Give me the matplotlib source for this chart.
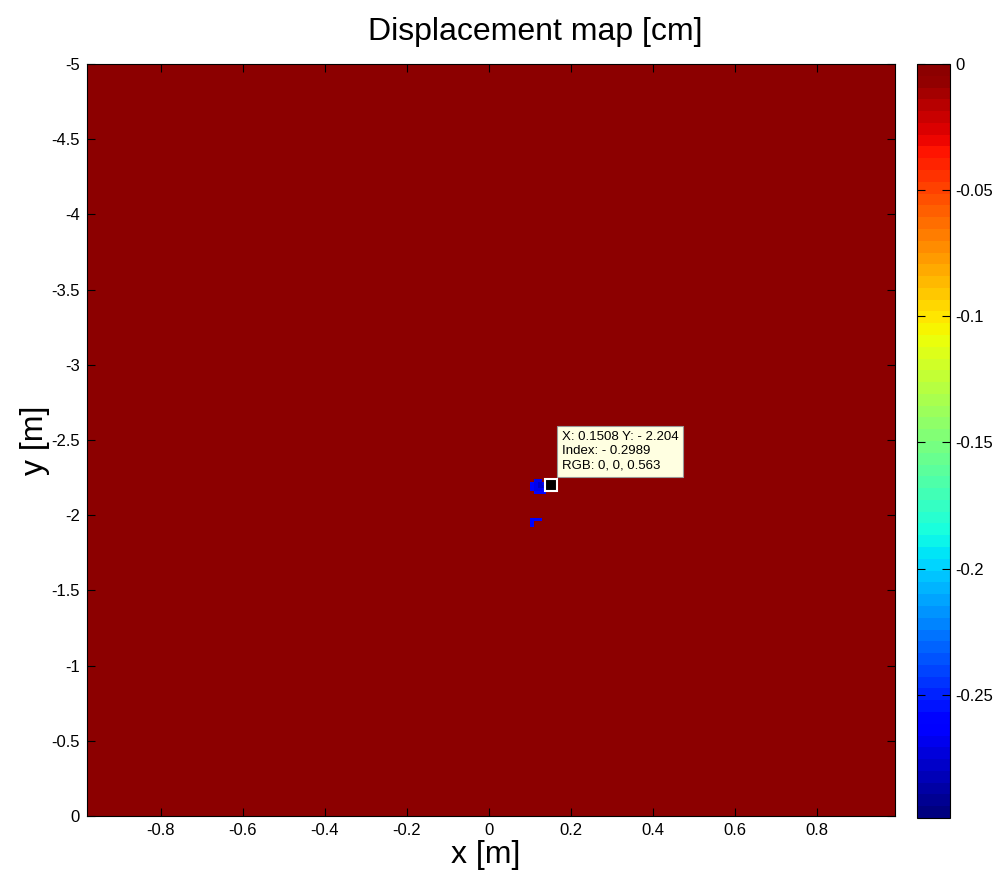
import numpy as np
import matplotlib
matplotlib.use('Agg')
import matplotlib.pyplot as plt
from matplotlib.colors import ListedColormap

plt.rcParams['font.family'] = ['Liberation Sans', 'DejaVu Sans']
plt.rcParams['axes.unicode_minus'] = False

# grid of the map (m)
x_edges = np.arange(-0.98, 0.995, 0.01)
y_edges = np.arange(-5.0, 0.001, 0.02)

# cells with non-zero displacement (cm)
spot_x = [0.12, 0.13,
          0.11, 0.12, 0.13, 0.14,
          0.11, 0.12, 0.13, 0.14, 0.15,
          0.11, 0.12, 0.13, 0.14,
          0.12, 0.13, 0.14,
          0.11, 0.12, 0.13,
          0.11, 0.11]
spot_y = [-2.24, -2.24,
          -2.22, -2.22, -2.22, -2.22,
          -2.20, -2.20, -2.20, -2.20, -2.20,
          -2.18, -2.18, -2.18, -2.18,
          -2.16, -2.16, -2.16,
          -1.98, -1.98, -1.98,
          -1.96, -1.94]
spot_val = [-0.27, -0.27,
            -0.26, -0.27, -0.28, -0.27,
            -0.26, -0.27, -0.28, -0.28, -0.2989,
            -0.26, -0.27, -0.27, -0.26,
            -0.26, -0.26, -0.26,
            -0.26, -0.26, -0.26,
            -0.26, -0.26]

# datatip
tip_x, tip_y = 0.1508, -2.204
tip_text = 'X: 0.1508 Y: - 2.204\nIndex: - 0.2989\nRGB: 0, 0, 0.563'

xc = (x_edges[:-1] + x_edges[1:]) / 2
yc = (y_edges[:-1] + y_edges[1:]) / 2
Z = np.zeros((len(yc), len(xc)))
for sx, sy, sv in zip(spot_x, spot_y, spot_val):
    i = np.argmin(np.abs(yc - sy))
    j = np.argmin(np.abs(xc - sx))
    Z[i, j] = sv

fig = plt.figure(figsize=(10.01, 8.73), dpi=100)
ax = fig.add_axes([87/1001, 57/873, 808/1001, 752/873])
cax = fig.add_axes([917/1001, 55/873, 33/1001, 754/873])

# jet with 64 steps, top end a bit lighter like the original render
colors = plt.get_cmap('jet', 64)(np.arange(64))
colors[-1] = [0.55, 0.0, 0.0, 1.0]
cmap = ListedColormap(colors)

mesh = ax.pcolormesh(x_edges, y_edges, Z, cmap=cmap, vmin=-0.2989, vmax=0)
ax.set_xlim(x_edges[0], x_edges[-1])
ax.set_ylim(0, -5)
ax.set_xticks(np.arange(-0.8, 0.81, 0.2))
ax.set_xticklabels(['-0.8', '-0.6', '-0.4', '-0.2', '0', '0.2', '0.4', '0.6', '0.8'])
ax.set_yticks(np.arange(-5, 0.01, 0.5))
ax.set_yticklabels(['-5', '-4.5', '-4', '-3.5', '-3', '-2.5', '-2', '-1.5', '-1', '-0.5', '0'])
ax.tick_params(direction='in', top=True, right=True, length=6, width=0.8,
               labelsize=12, pad=5)
for s in ax.spines.values():
    s.set_linewidth(0.8)

ax.plot(tip_x, tip_y, 's', ms=9, mfc='black', mec='white', mew=1.5)
ax.annotate(tip_text, xy=(tip_x, tip_y), xytext=(562, 401), textcoords='figure pixels',
            fontsize=9.5, va='bottom', ha='left', linespacing=1.3,
            bbox=dict(boxstyle='square,pad=0.35', fc='#ffffe1', ec='#999999', lw=0.8))

cb = fig.colorbar(mesh, cax=cax)
cb.set_ticks([0, -0.05, -0.1, -0.15, -0.2, -0.25])
cb.set_ticklabels(['0', '-0.05', '-0.1', '-0.15', '-0.2', '-0.25'])
cax.tick_params(direction='in', left=True, right=True, length=6, width=0.8,
                labelsize=12, pad=4)
cb.outline.set_linewidth(0.8)

fig.text(535/1001, 1 - 32/873, 'Displacement map [cm]', ha='center', va='center',
         fontsize=23)
fig.text(486/1001, 1 - 855/873, 'x [m]', ha='center', va='center', fontsize=23)
fig.text(35/1001, 1 - 440/873, 'y [m]', ha='center', va='center', fontsize=23,
         rotation=90)

fig.savefig('out.png', dpi=100)
